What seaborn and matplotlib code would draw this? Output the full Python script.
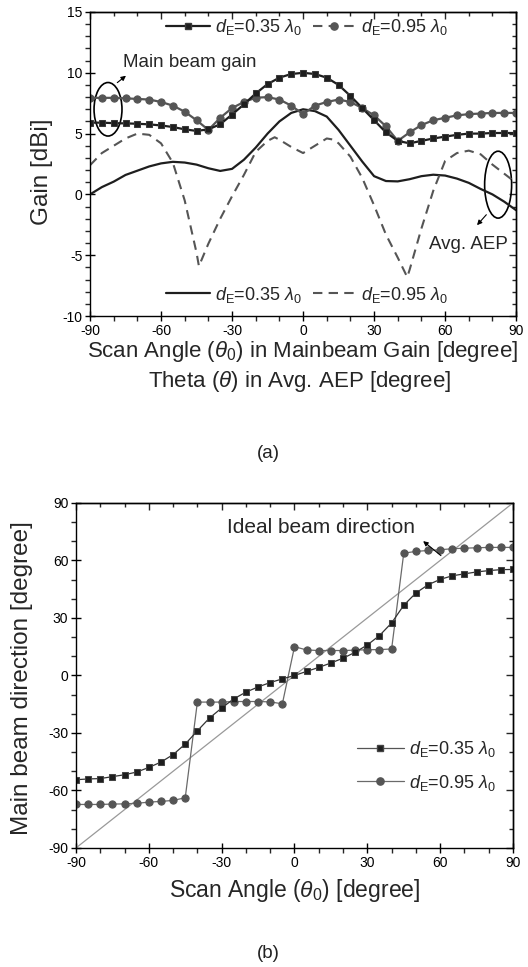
import numpy as np
import pandas as pd
import matplotlib
matplotlib.use('Agg')
import matplotlib.pyplot as plt
import seaborn as sns
from matplotlib.lines import Line2D
from matplotlib.patches import Ellipse
from matplotlib.ticker import MultipleLocator

# ---------------- data ----------------
scan = list(range(-90, 95, 5))

gain_035 = [5.90, 5.90, 5.86, 5.84, 5.81, 5.76, 5.67, 5.54, 5.35, 5.22, 5.35, 5.77, 6.57,
            7.40, 8.30, 9.07, 9.60, 9.90, 10.0, 9.90, 9.60, 9.00, 8.10, 7.10, 6.10, 5.10,
            4.40, 4.20, 4.40, 4.60, 4.75, 4.90, 5.00, 5.00, 5.05, 5.05, 5.05]
gain_095 = [7.94, 7.94, 7.94, 7.90, 7.85, 7.80, 7.60, 7.30, 6.80, 6.10, 5.30, 6.30, 7.10,
            7.60, 7.95, 8.00, 7.80, 7.30, 6.60, 7.30, 7.60, 7.80, 7.60, 7.10, 6.50, 5.60,
            4.40, 5.10, 5.70, 6.10, 6.30, 6.50, 6.60, 6.65, 6.70, 6.70, 6.70]

aep_035 = [0.0, 0.6, 1.05, 1.6, 1.95, 2.3, 2.55, 2.68, 2.62, 2.45, 2.15, 1.93, 2.1, 2.85,
           3.85, 5.0, 6.0, 6.7, 7.0, 6.85, 6.4, 5.3, 4.0, 2.7, 1.5, 1.1, 1.07, 1.25, 1.5,
           1.62, 1.55, 1.3, 0.95, 0.45, 0.0, -0.6, -1.3]
theta_095 = [-90, -85, -80, -75, -70, -65, -60, -55, -50, -45, -44, -40, -35, -30, -25,
             -20, -15, -12, -10, -5, 0, 5, 10, 13, 15, 20, 25, 30, 35, 40, 44, 45, 50, 55,
             60, 65, 70, 75, 80, 85, 90]
aep_095 = [2.4, 3.4, 4.0, 4.6, 5.0, 4.9, 4.2, 2.6, -0.5, -4.8, -5.9, -4.05, -2.0, -0.15,
           1.6, 3.5, 4.4, 4.7, 4.5, 3.9, 3.4, 4.0, 4.6, 4.5, 4.2, 3.1, 1.35, -0.9, -3.3,
           -5.2, -6.8, -6.2, -2.8, 0.3, 2.75, 3.4, 3.6, 3.3, 2.45, 1.7, 0.95]

dir_035 = [-54.4, -54.0, -53.8, -52.8, -51.8, -50.4, -48.0, -45.2, -41.3, -35.8, -28.9,
           -22.2, -17.0, -12.2, -8.7, -6.0, -3.7, -1.8, 0.0, 2.1, 4.2, 6.5, 9.0, 12.1,
           15.9, 20.8, 27.4, 36.6, 43.0, 47.3, 50.1, 52.0, 53.0, 54.0, 54.7, 55.2, 55.3]
dir_095 = [-67.3, -67.3, -67.3, -67.1, -67.0, -66.7, -66.1, -65.7, -65.2, -63.8,
           -13.9, -13.9, -13.9, -13.6, -13.6, -13.6, -13.8, -14.8,
           15.0, 13.3, 13.0, 13.0, 13.0, 13.2, 13.4, 13.5, 13.8,
           63.8, 64.7, 65.2, 65.6, 66.1, 66.4, 66.6, 66.8, 66.8, 66.8]

lab_035 = r'$d_{\mathrm{E}}$=0.35 $\lambda_0$'
lab_095 = r'$d_{\mathrm{E}}$=0.95 $\lambda_0$'

# ---------------- style ----------------
sns.set_theme(style='white')
plt.rcParams['font.family'] = ['Liberation Sans', 'DejaVu Sans']
plt.rcParams['mathtext.fontset'] = 'custom'
plt.rcParams['mathtext.rm'] = 'Liberation Sans'
plt.rcParams['mathtext.it'] = 'Liberation Sans:italic'
plt.rcParams['mathtext.bf'] = 'Liberation Sans:bold'
plt.rcParams['axes.edgecolor'] = 'black'
plt.rcParams['axes.linewidth'] = 1.0
plt.rcParams['axes.unicode_minus'] = False

BLK = '#1e1e1e'
GRY = '#555555'

fig = plt.figure(figsize=(5.28, 9.67), dpi=100)


def style_axes(ax, xmaj, xmin, ymaj, ymin):
    ax.xaxis.set_major_locator(MultipleLocator(xmaj))
    ax.xaxis.set_minor_locator(MultipleLocator(xmin))
    ax.yaxis.set_major_locator(MultipleLocator(ymaj))
    ax.yaxis.set_minor_locator(MultipleLocator(ymin))
    ax.tick_params(which='major', direction='inout', length=7, width=1, labelsize=10,
                   colors='black', pad=2, bottom=True, left=True)
    ax.tick_params(which='minor', direction='out', length=3.5, width=1,
                   bottom=True, left=True)
    for side in ('top', 'right'):
        sec = ax.secondary_xaxis('top') if side == 'top' else ax.secondary_yaxis('right')
        axis = sec.xaxis if side == 'top' else sec.yaxis
        axis.set_major_locator(MultipleLocator(xmaj if side == 'top' else ymaj))
        axis.set_minor_locator(MultipleLocator(xmin if side == 'top' else ymin))
        sec.tick_params(which='major', direction='in', length=5, width=1,
                        labeltop=False, labelright=False)
        sec.tick_params(which='minor', direction='in', length=3, width=1)
    for s in ax.spines.values():
        s.set_visible(True)
        s.set_color('black')


# ---------------- (a) ----------------
ax1 = fig.add_axes([0.1705, 0.6732, 0.807, 0.3144])

sns.lineplot(x=scan, y=aep_035, ax=ax1, color=BLK, linewidth=1.6)
sns.lineplot(x=theta_095, y=aep_095, ax=ax1, color=GRY, linewidth=1.5,
             linestyle=(0, (4.5, 3)))
sns.lineplot(x=scan, y=gain_095, ax=ax1, color=GRY, linewidth=1.6, marker='o',
             markersize=5.2, markeredgecolor=GRY, markerfacecolor=GRY)
sns.lineplot(x=scan, y=gain_035, ax=ax1, color=BLK, linewidth=1.6, marker='s',
             markersize=4.2, markeredgecolor='#3a3a3a', markerfacecolor=BLK)

ax1.set_xlim(-90, 90)
ax1.set_ylim(-10, 15)
ax1.set_xlabel('')
ax1.set_ylabel('')
style_axes(ax1, 30, 10, 5, 1)

# ellipses and annotations
ax1.add_patch(Ellipse((-82.4, 7.0), 11.8, 4.4, fill=False, edgecolor='black', lw=1.2))
ax1.add_patch(Ellipse((82.4, 0.8), 11.4, 5.5, fill=False, edgecolor='black', lw=1.2))
ax1.annotate('', xy=(-73.9, 9.9), xytext=(-79.4, 9.05),
             arrowprops=dict(arrowstyle='-|>', color='black', lw=0.8, mutation_scale=7))
ax1.annotate('', xy=(72.7, -2.7), xytext=(78.2, -1.5),
             arrowprops=dict(arrowstyle='-|>', color='black', lw=0.8, mutation_scale=7))
ax1.text(-47.7, 10.86, 'Main beam gain', fontsize=13.5, ha='center', va='center')
ax1.text(69.7, -4.1, 'Avg. AEP', fontsize=13.5, ha='center', va='center')

h_top = [Line2D([], [], color=BLK, lw=1.6, marker='s', markersize=4.2,
                markerfacecolor=BLK, markeredgecolor='#3a3a3a'),
         Line2D([], [], color=GRY, lw=1.5, linestyle=(0, (4.5, 3)), marker='o',
                markersize=5.2, markerfacecolor=GRY, markeredgecolor=GRY)]
leg1 = ax1.legend(h_top, [lab_035, lab_095], loc='center', bbox_to_anchor=(0.51, 0.95),
                  ncol=2, frameon=False, fontsize=13, handlelength=2.4,
                  handletextpad=0.3, columnspacing=0.6, borderpad=0, borderaxespad=0)
ax1.add_artist(leg1)
h_bot = [Line2D([], [], color=BLK, lw=1.6),
         Line2D([], [], color=GRY, lw=1.5, linestyle=(0, (4.5, 3)))]
ax1.legend(h_bot, [lab_035, lab_095], loc='center', bbox_to_anchor=(0.51, 0.07),
           ncol=2, frameon=False, fontsize=13, handlelength=2.4,
           handletextpad=0.3, columnspacing=0.6, borderpad=0, borderaxespad=0)

fig.text(303 / 528, 1 - 351 / 967, r'Scan Angle ($\theta_0$) in Mainbeam Gain [degree]',
         ha='center', va='center', fontsize=16)
fig.text(300 / 528, 1 - 381 / 967, r'Theta ($\theta$) in Avg. AEP [degree]',
         ha='center', va='center', fontsize=16)
fig.text(42 / 528, 1 - 172 / 967, 'Gain [dBi]', rotation=90, ha='center', va='center',
         fontsize=17.5)
fig.text(268 / 528, 1 - 453 / 967, '(a)', ha='center', va='center', fontsize=13.5,
         color='#222222')

# ---------------- (b) ----------------
ax2 = fig.add_axes([0.1439, 0.1231, 0.8277, 0.3568])

sns.lineplot(x=scan, y=scan, ax=ax2, color='#999999', linewidth=0.9)
sns.lineplot(x=scan, y=dir_095, ax=ax2, color='#6a6a6a', linewidth=0.9, marker='o',
             markersize=5.2, markeredgecolor=GRY, markerfacecolor=GRY)
sns.lineplot(x=scan, y=dir_035, ax=ax2, color='#333333', linewidth=0.9, marker='s',
             markersize=4.2, markeredgecolor='#444444', markerfacecolor=BLK)

ax2.set_xlim(-90, 90)
ax2.set_ylim(-90, 90)
ax2.set_xlabel('')
ax2.set_ylabel('')
style_axes(ax2, 30, 10, 30, 10)

ax2.text(10.9, 77.2, 'Ideal beam direction', fontsize=15, ha='center', va='center')
ax2.annotate('', xy=(52.1, 71.0), xytext=(61.2, 61.6),
             arrowprops=dict(arrowstyle='-|>', color='black', lw=0.8, mutation_scale=7))

h2 = [Line2D([], [], color='#555555', lw=0.9, marker='s', markersize=4.2,
             markerfacecolor=BLK, markeredgecolor='#444444'),
      Line2D([], [], color='#6a6a6a', lw=0.9, marker='o', markersize=5.2,
             markerfacecolor=GRY, markeredgecolor=GRY)]
ax2.legend(h2, [lab_035, lab_095], loc='center left', bbox_to_anchor=(0.643, 0.238),
           frameon=False, fontsize=13, handlelength=2.6, handletextpad=0.3,
           labelspacing=0.75, borderpad=0, borderaxespad=0)

fig.text(295 / 528, 1 - 890 / 967, r'Scan Angle ($\theta_0$) [degree]', ha='center',
         va='center', fontsize=16.5)
fig.text(22 / 528, 1 - 678 / 967, 'Main beam direction [degree]', rotation=90,
         ha='center', va='center', fontsize=17.5)
fig.text(268 / 528, 1 - 953 / 967, '(b)', ha='center', va='center', fontsize=13.5,
         color='#222222')

fig.savefig('out.png', dpi=100)
